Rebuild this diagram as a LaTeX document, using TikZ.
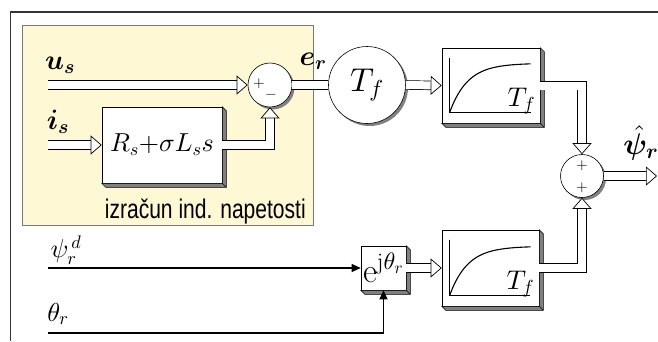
\documentclass[tikz,border=0pt]{standalone}
\usepackage{fontspec}
\usepackage{amsmath}
\usepackage{bm}
\usetikzlibrary{arrows.meta,shadows}
\DeclareFontShape{OML}{cmm}{m}{it}{<->cmmi10}{}
\DeclareFontShape{OML}{cmm}{b}{it}{<->cmmib10}{}
\DeclareFontShape{OMS}{cmsy}{m}{n}{<->cmsy10}{}
\DeclareFontShape{OMS}{cmsy}{b}{n}{<->cmbsy10}{}
\DeclareFontShape{OT1}{cmr}{m}{n}{<->cmr10}{}
\DeclareFontShape{OT1}{cmr}{bx}{n}{<->cmbx10}{}
\DeclareFontShape{OMX}{cmex}{m}{n}{<->cmex10}{}
\newfontfamily\arialfont{Liberation Sans}
\definecolor{panel}{RGB}{255,248,212}
\definecolor{edge}{RGB}{120,120,120}
\definecolor{shade}{RGB}{128,128,128}
\tikzset{
  hollow/.style={double=white, double distance=8pt, line width=0.7pt,
    -{Triangle[open,fill=white,length=11pt,width=19pt]}},
  hollowline/.style={double=white, double distance=8pt, line width=0.7pt},
  sig/.style={line width=1.1pt, -{Triangle[length=9pt,width=8pt]}},
  sumnode/.style={circle, draw, fill=white, line width=0.6pt, inner sep=0pt,
    drop shadow={shadow xshift=2.5pt, shadow yshift=-2.5pt, fill=shade, opacity=1}},
  blockbox/.style={draw, fill=white, line width=0.6pt, inner sep=0pt},
  lbl/.style={font=\fontsize{26}{26}\selectfont},
  boldlbl/.style={font=\fontsize{28}{28}\selectfont},
  sgn/.style={font=\fontsize{15}{15}\selectfont, inner sep=0pt}
}

\begin{document}
\begin{tikzpicture}[x=1pt, y=-1pt, >=latex]
        \useasboundingbox (0,0) rectangle (658,341);
        % ==== FRAME ====
        \draw[line width=1.2pt, black!80] (10.5,341) -- (10.5,12) -- (658,12);
        % ==== PANEL: INDUCED VOLTAGE ====
        \draw[fill=panel, draw=edge, line width=0.6pt] (22,25) rectangle (313,225);
        \node[anchor=base east, inner sep=0pt] (panelname) at (306,218)
            {\scalebox{0.78}[1]{\arialfont\fontsize{27}{27}\selectfont izračun ind. napetosti}};

        % ==== BLOCKS ====
        \node[sumnode, minimum size=44pt] (suma) at (270,85) {};
        \node[blockbox, minimum width=120pt, minimum height=76pt,
            font=\fontsize{26}{26}\selectfont] (rls) at (162,145) {$R_s{+}\sigma L_s s$};
        \node[sumnode, minimum size=77pt, font=\fontsize{33}{33}\selectfont] (tf) at (367,85) {$T_f$};
        \node[blockbox, minimum width=98pt, minimum height=75pt] (pta) at (491,85.5) {};
        \node[sumnode, minimum size=43pt] (sumb) at (582,176) {};
        \node[blockbox, minimum width=45pt, minimum height=44pt,
            font=\fontsize{34}{34}\selectfont] (rot) at (383.5,268) {$\mathrm{e}^{\mathrm{j}\theta_r}$};
        \node[blockbox, minimum width=97pt, minimum height=76pt] (ptb) at (490.5,268) {};

        % ==== 3D EDGES AND STEP RESPONSES ====
        \foreach \b in {rls,pta,rot,ptb}{
            \draw[fill=shade, line width=0.5pt] (\b.north east) -- ++(4,4)
                -- ([shift={(4,4)}]\b.south east) -- ([shift={(4,4)}]\b.south west)
                -- (\b.south west) -- (\b.south east) -- cycle;
            \draw[line width=0.5pt] (\b.south east) -- ++(4,4);
        }
        \foreach \b in {pta,ptb}{
            \draw[line width=0.6pt] ([shift={(8,10)}]\b.north west) |- ([shift={(-9,-11)}]\b.south east);
            \draw[line width=1.1pt, domain=0:81, samples=50, shift={([shift={(8,-11)}]\b.south west)}]
                plot (\x,{-49*(1-exp(-\x/18))});
        }
        \node[font=\fontsize{27}{27}\selectfont] (tfa) at ([shift={(-19,-22)}]pta.south east) {$T_f$};
        \node[font=\fontsize{27}{27}\selectfont] (tfb) at ([shift={(-19,-22)}]ptb.south east) {$T_f$};

        % ==== SIGNS ====
        \node[sgn] (pa) at (259,84) {$+$};
        \node[sgn] (ma) at (271,95) {$-$};
        \node[sgn] (pb) at (582,166) {$+$};
        \node[sgn] (pc) at (582,188) {$+$};

        % ==== CONNECTORS ====
        \coordinate (usin) at (48,85);
        \coordinate (isin) at (48,145);
        \coordinate (psiin) at (48,268);
        \coordinate (thin) at (48,333);
        \coordinate (out) at (657,176);
        \draw[hollow] (usin) -- (suma.west);
        \draw[hollow] (isin) -- (rls.west);
        \draw[hollow] (rls.east) -| (suma.south);
        \draw[hollowline] (suma.east) -- (tf.west);
        \draw[hollow] (tf.east) -- (pta.west);
        \draw[hollow] (pta.east) -| (sumb.north);
        \draw[hollow] (ptb.east) -| (sumb.south);
        \draw[hollow] (sumb.east) -- (out);
        \draw[hollow] (rot.east) -- (rot.east -| ptb.west);
        \draw[sig] (psiin) -- (rot.west);
        \draw[sig] (thin) -| (rot.south);

        % ==== LABELS ====
        \node[boldlbl] (us) at (60,65) {$\bm{u}_{\bm{s}}$};
        \node[boldlbl] (is) at (58,122) {$\bm{i}_{\bm{s}}$};
        \node[boldlbl] (er) at (313,61) {$\bm{e}_{\bm{r}}$};
        \node[font=\fontsize{30}{30}\selectfont] (psihat) at (641,143) {$\hat{\bm{\psi}}_{\bm{r}}$};
        \node[lbl] (psid) at (66,250) {$\psi_r^{\,d}$};
        \node[lbl] (th) at (58,314) {$\theta_r$};
\end{tikzpicture}
\end{document}
